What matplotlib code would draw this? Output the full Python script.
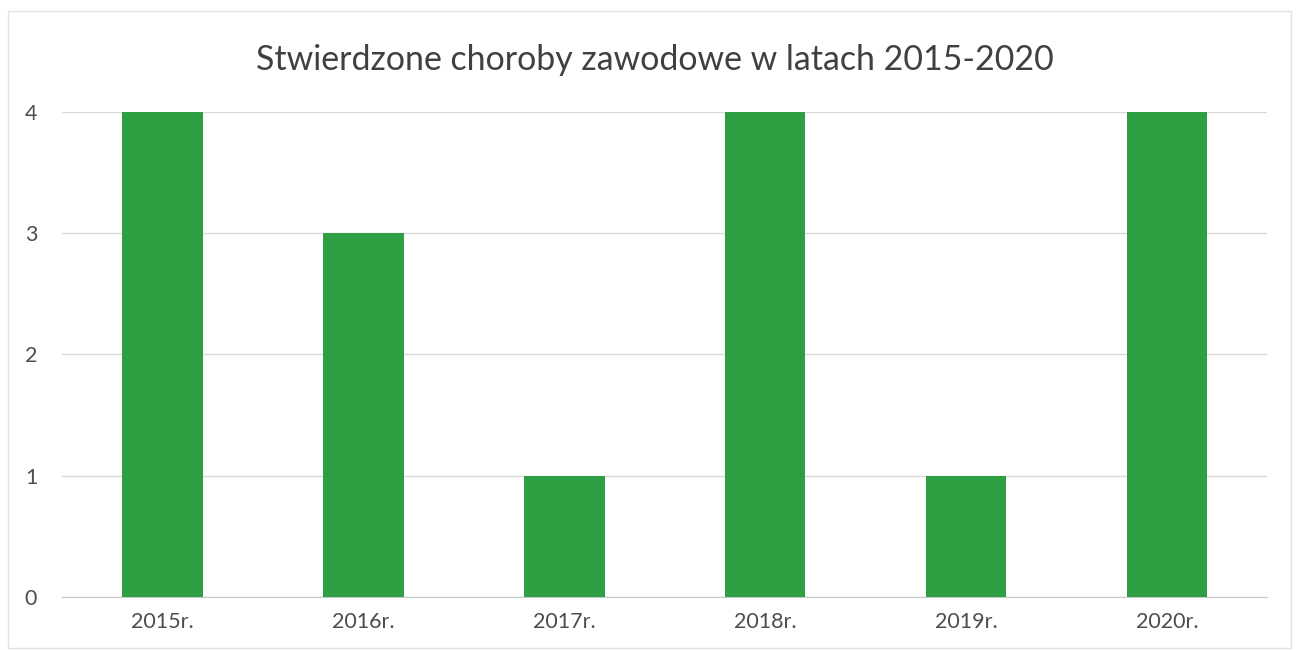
import matplotlib.pyplot as plt
from matplotlib.patches import Rectangle

years = ["2015r.", "2016r.", "2017r.", "2018r.", "2019r.", "2020r."]
cases = [4, 3, 1, 4, 1, 4]
y_ticks = [0, 1, 2, 3, 4]

plt.rcParams["font.family"] = ["Lato", "DejaVu Sans"]

fig = plt.figure(figsize=(12.96, 6.5), dpi=100)
ax = fig.add_axes([0.048, 0.0815, 0.930, 0.7465])

ax.bar(range(len(years)), cases, width=0.4, color="#2ea043", zorder=3)

ax.set_xlim(-0.5, len(years) - 0.5)
ax.set_ylim(0, 4)
ax.set_xticks(range(len(years)))
ax.set_xticklabels(years)
ax.set_yticks(y_ticks)
ax.tick_params(axis="both", length=0, colors="#4d4d4d", labelsize=15.5)
ax.tick_params(axis="x", pad=11)
ax.tick_params(axis="y", pad=18)
ax.grid(axis="y", color="#d9d9d9", linewidth=1, zorder=0)
for side in ["top", "right", "left"]:
    ax.spines[side].set_visible(False)
ax.spines["bottom"].set_color("#c8c8c8")

fig.text(0.505, 0.908, "Stwierdzone choroby zawodowe w latach 2015-2020",
         ha="center", va="center", fontsize=24.4, color="#404040")

# faint outer frame of the chart
fig.patches.append(Rectangle((0.006, 0.003), 0.99, 0.98, transform=fig.transFigure,
                             fill=False, edgecolor="#e3e3e3", linewidth=1))

fig.savefig("out.png", dpi=100)
